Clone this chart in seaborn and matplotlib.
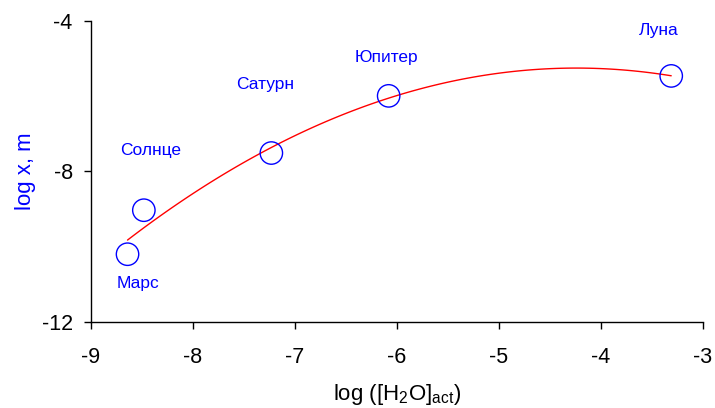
import numpy as np
import pandas as pd
import matplotlib
matplotlib.use("Agg")
import matplotlib.pyplot as plt
import seaborn as sns

# values
bodies = ["Марс", "Солнце", "Сатурн", "Юпитер", "Луна"]
log_h2o = [-8.64, -8.48, -7.23, -6.08, -3.31]
log_x = [-10.2, -9.03, -7.51, -5.99, -5.46]
# where each name is written
label_x = [-8.54, -8.41, -7.29, -6.10, -3.43]
label_y = [-10.97, -7.43, -5.70, -4.98, -4.24]

x_ticks = [-9, -8, -7, -6, -5, -4, -3]
y_ticks = [-4, -8, -12]

df = pd.DataFrame({"body": bodies, "log_h2o": log_h2o, "log_x": log_x})

sns.set_style("ticks")
plt.rcParams["font.family"] = ["Liberation Sans", "DejaVu Sans"]
plt.rcParams["mathtext.fontset"] = "custom"
plt.rcParams["mathtext.rm"] = "Liberation Sans"
plt.rcParams["mathtext.it"] = "Liberation Sans"
plt.rcParams["axes.unicode_minus"] = False

fig = plt.figure(figsize=(7.15, 4.08), dpi=100)
ax = fig.add_axes([0.127, 0.211, 0.856, 0.7375])

# quadratic trend through the points
sns.regplot(data=df, x="log_h2o", y="log_x", order=2, ci=None, scatter=False,
            line_kws={"color": "red", "lw": 1}, ax=ax)
sns.scatterplot(data=df, x="log_h2o", y="log_x", s=260, marker="o",
                facecolor="none", edgecolor="blue", linewidth=1, ax=ax, zorder=3)

for name, lx, ly in zip(bodies, label_x, label_y):
    ax.text(lx, ly, name, color="blue", fontsize=12.5, ha="center", va="center")

ax.set_xlim(-9, -3)
ax.set_ylim(-12, -4)
ax.set_xticks(x_ticks)
ax.set_yticks(y_ticks)
ax.tick_params(labelsize=15.5, length=5, width=1, color="black", labelcolor="black")
ax.tick_params(axis="x", pad=13)
ax.tick_params(axis="y", pad=8)
sns.despine(ax=ax)
for sp in ["left", "bottom"]:
    ax.spines[sp].set_color("black")
    ax.spines[sp].set_linewidth(1)

ax.set_xlabel("log ([H$_2$O]$_{act}$)", fontsize=16, color="black", labelpad=10)
ax.set_ylabel("log x, m", fontsize=16, color="blue", labelpad=4)

fig.savefig("out.png", dpi=100)
